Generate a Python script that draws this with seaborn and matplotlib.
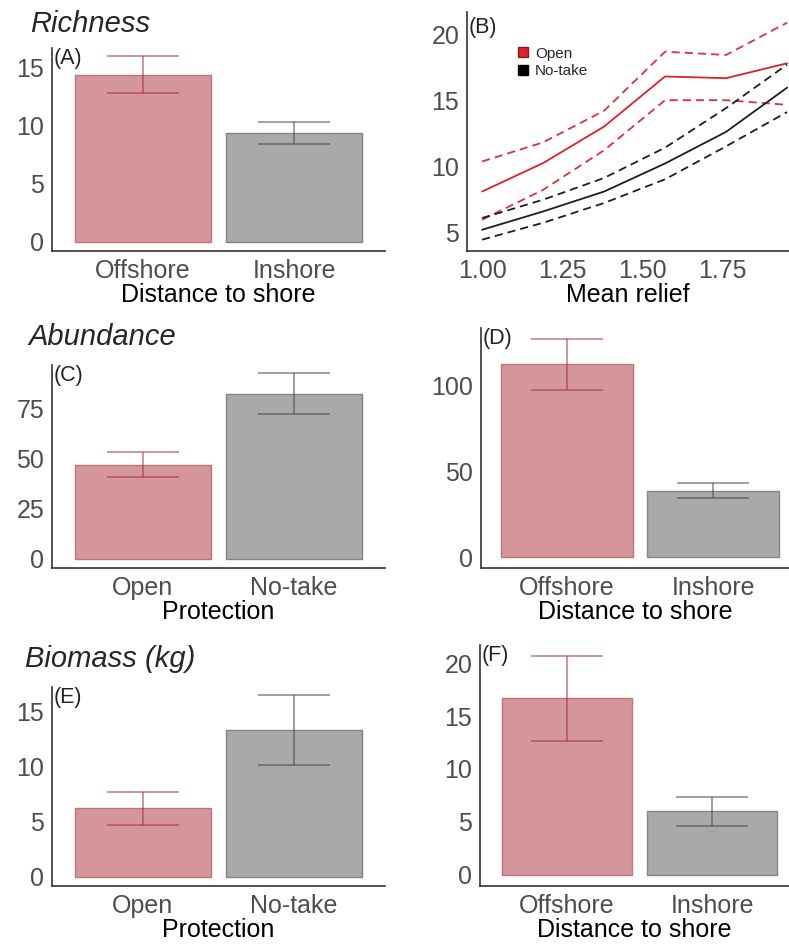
import numpy as np
import pandas as pd
import seaborn as sns
import matplotlib.pyplot as plt
from matplotlib.lines import Line2D

# ---- data ----
dist_cats = ["Offshore", "Inshore"]
prot_cats = ["Open", "No-take"]

rich_dist = [14.4, 9.4]
rich_dist_lo = [12.8, 8.4]
rich_dist_hi = [16.0, 10.3]

abund_prot = [47.2, 82.5]
abund_prot_lo = [41.0, 72.5]
abund_prot_hi = [53.3, 93.0]

abund_dist = [113.0, 38.6]
abund_dist_lo = [97.8, 34.5]
abund_dist_hi = [127.5, 43.3]

bio_prot = [6.3, 13.4]
bio_prot_lo = [4.7, 10.2]
bio_prot_hi = [7.7, 16.5]

bio_dist = [16.7, 6.0]
bio_dist_lo = [12.6, 4.6]
bio_dist_hi = [20.7, 7.4]

relief = [1.00, 1.19, 1.38, 1.57, 1.76, 1.95]
open_fit = [8.07, 10.23, 13.0, 16.8, 16.67, 17.8]
open_lo = [5.93, 8.2, 11.2, 15.0, 15.0, 14.65]
open_hi = [10.35, 11.8, 14.2, 18.68, 18.43, 20.88]
notake_fit = [5.17, 6.56, 8.07, 10.2, 12.6, 15.95]
notake_lo = [4.42, 5.7, 7.2, 9.0, 11.5, 14.1]
notake_hi = [6.06, 7.45, 9.1, 11.4, 14.4, 17.7]

sns.set_style("white")
plt.rcParams['font.family'] = ['Liberation Sans', 'DejaVu Sans']

W, H = 789, 947
RED_FILL, RED_EDGE, RED_ERR = '#D4969A', '#C0737A', '#A0303A'
GRAY_FILL, GRAY_EDGE, GRAY_ERR = '#A9A9A9', '#858585', '#454545'
TICK_COL = '#4D4D4D'


def rect(l, t, r, b):
    return [l / W, 1 - b / H, (r - l) / W, (b - t) / H]


def style_axes(ax, xlabel):
    sns.despine(ax=ax)
    for s in ['left', 'bottom']:
        ax.spines[s].set_color('#333333')
        ax.spines[s].set_linewidth(1.2)
    ax.tick_params(axis='both', length=4, width=1.0, color='#333333',
                   labelcolor=TICK_COL, labelsize=18, pad=1.5)
    ax.set_xlabel(xlabel, fontsize=18, color='black', labelpad=0)
    ax.set_ylabel('')


def bar_panel(pos, cats, vals, lo, hi, xlabel, tag, ylim, yticks, xlim=(-0.6, 1.6)):
    ax = fig.add_axes(rect(*pos))
    sns.barplot(x=cats, y=vals, hue=cats, palette=[RED_FILL, GRAY_FILL],
                width=0.9, saturation=1, legend=False, ax=ax, linewidth=1.0)
    for patch, ec in zip(ax.patches, [RED_EDGE, GRAY_EDGE]):
        patch.set_edgecolor(ec)
    xs = np.arange(len(cats))
    for i, ec in zip(xs, [RED_ERR, GRAY_ERR]):
        ax.errorbar(i, vals[i], yerr=[[vals[i] - lo[i]], [hi[i] - vals[i]]],
                    fmt='none', ecolor=ec, alpha=0.55, elinewidth=1.3,
                    capsize=26, capthick=1.3)
    ax.set_xlim(*xlim)
    ax.set_ylim(*ylim)
    ax.set_yticks(yticks)
    style_axes(ax, xlabel)
    ax.text(0.004, 1.0, tag, transform=ax.transAxes, ha='left', va='top',
            fontsize=15.5, color='#222222')
    return ax


fig = plt.figure(figsize=(W / 100, H / 100), dpi=100)

# (A) richness vs distance
bar_panel((52, 48, 385, 251), dist_cats, rich_dist, rich_dist_lo, rich_dist_hi,
          'Distance to shore', '(A)', (-0.78, 16.7), [0, 5, 10, 15])

# (B) richness vs mean relief
axb = fig.add_axes(rect(467, 12, 789, 251))
dash = (4.5, 2.8)
sns.lineplot(x=relief, y=open_fit, color='#E0202A', lw=1.3, ax=axb)
sns.lineplot(x=relief, y=open_lo, color='#E0303A', lw=1.3, ax=axb, linestyle=(0, dash))
sns.lineplot(x=relief, y=open_hi, color='#E0303A', lw=1.3, ax=axb, linestyle=(0, dash))
sns.lineplot(x=relief, y=notake_fit, color='#1E1E1E', lw=1.3, ax=axb)
sns.lineplot(x=relief, y=notake_lo, color='#1E1E1E', lw=1.3, ax=axb, linestyle=(0, dash))
sns.lineplot(x=relief, y=notake_hi, color='#1E1E1E', lw=1.3, ax=axb, linestyle=(0, dash))
axb.set_xlim(0.953, 1.956)
axb.set_ylim(3.56, 21.69)
axb.set_xticks([1.00, 1.25, 1.50, 1.75])
axb.set_xticklabels(['1.00', '1.25', '1.50', '1.75'])
axb.set_yticks([5, 10, 15, 20])
style_axes(axb, 'Mean relief')
axb.text(0.004, 0.98, '(B)', transform=axb.transAxes, ha='left', va='top',
         fontsize=15.5, color='#222222')
handles = [Line2D([], [], marker='s', ls='none', markersize=6.5,
                  markerfacecolor='#E0202A', markeredgecolor='#8A1A1A'),
           Line2D([], [], marker='s', ls='none', markersize=6.5,
                  markerfacecolor='black', markeredgecolor='black')]
axb.legend(handles, prot_cats, loc='upper left', bbox_to_anchor=(0.155, 0.855),
           frameon=False, fontsize=11, handlelength=0.8, handletextpad=0.4,
           labelspacing=0.25, borderaxespad=0, borderpad=0)

# (C) abundance vs protection
bar_panel((52, 365, 385, 568), prot_cats, abund_prot, abund_prot_lo, abund_prot_hi,
          'Protection', '(C)', (-4.5, 97), [0, 25, 50, 75])

# (D) abundance vs distance
bar_panel((481, 328, 789, 568), dist_cats, abund_dist, abund_dist_lo, abund_dist_hi,
          'Distance to shore', '(D)', (-6.4, 133.9), [0, 50, 100], xlim=(-0.589, 1.52))

# (E) biomass vs protection
bar_panel((52, 687, 385, 886), prot_cats, bio_prot, bio_prot_lo, bio_prot_hi,
          'Protection', '(E)', (-0.82, 17.27), [0, 5, 10, 15])

# (F) biomass vs distance
bar_panel((480, 645, 789, 886), dist_cats, bio_dist, bio_dist_lo, bio_dist_hi,
          'Distance to shore', '(F)', (-1.04, 21.7), [0, 5, 10, 15, 20], xlim=(-0.6, 1.53))

# row titles
fig.text(30 / W, 1 - 32 / H, 'Richness', style='italic', fontsize=21, va='baseline')
fig.text(28 / W, 1 - 345 / H, 'Abundance', style='italic', fontsize=21, va='baseline')
fig.text(25 / W, 1 - 667 / H, 'Biomass (kg)', style='italic', fontsize=21, va='baseline')

fig.savefig('out.png', dpi=100)
